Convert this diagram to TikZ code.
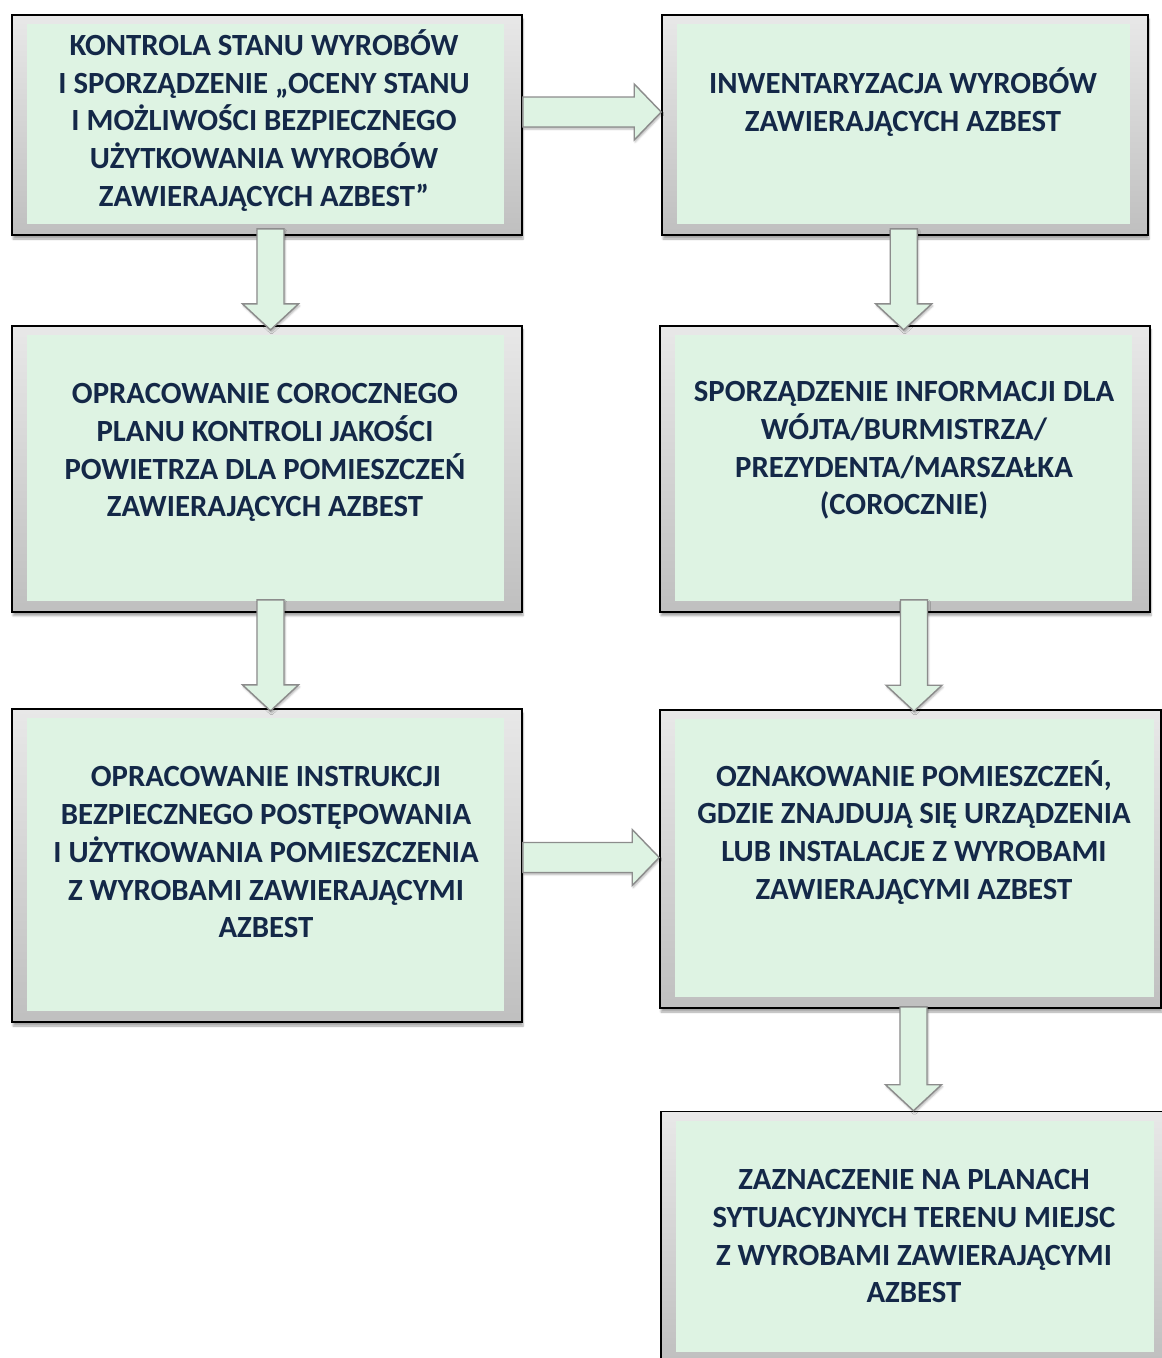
\documentclass[tikz,border=0pt]{standalone}
\usepackage{fontspec}
\setmainfont{Carlito}
\usetikzlibrary{calc,positioning,shadows.blur}
\definecolor{paneGreen}{RGB}{222,243,227}
\definecolor{inkNavy}{RGB}{20,40,72}
\definecolor{arrowEdge}{RGB}{140,140,140}

% fat block arrows between the tiles
\newcommand{\downblock}[2]{%
  \draw[fatarrow] let \p1=(#1), \p2=(#2) in
    (\x1-13.5pt,\y1) -- (\x1-13.5pt,\y2+26pt) -- (\x1-28pt,\y2+26pt) -- (\x1,\y2)
    -- (\x1+28pt,\y2+26pt) -- (\x1+13.5pt,\y2+26pt) -- (\x1+13.5pt,\y1) -- cycle;}
\newcommand{\rightblock}[2]{%
  \draw[fatarrow] let \p1=(#1), \p2=(#2) in
    (\x1,\y1+15pt) -- (\x2-27pt,\y1+15pt) -- (\x2-27pt,\y1+28pt) -- (\x2,\y1)
    -- (\x2-27pt,\y1-28pt) -- (\x2-27pt,\y1-15pt) -- (\x1,\y1-15pt) -- cycle;}

\begin{document}
\begin{tikzpicture}[x=1pt,y=-1pt,
    tile/.style={draw=black, line width=1.6pt, top color=gray!18, bottom color=gray!50,
      inner sep=0pt, blur shadow={shadow xshift=1pt, shadow yshift=-4pt,
      shadow opacity=35, shadow blur steps=6}},
    pane/.style={fill=paneGreen},
    caption/.style={align=center, text=inkNavy,
      font=\bfseries\fontsize{30.8}{37.9}\selectfont,
      execute at begin node={\rule{0pt}{26pt}},
      execute at end node={\rule[-8pt]{0pt}{8pt}}},
    fatarrow/.style={fill=paneGreen, draw=arrowEdge, line width=1.4pt,
      blur shadow={shadow xshift=1pt, shadow yshift=-2pt,
      shadow opacity=30, shadow blur steps=4}}]
  \useasboundingbox (0,0) rectangle (1162,1358);
  \clip (0,0) rectangle (1162,1358);

  % tiles
  \node[tile, minimum width=510pt, minimum height=220pt] (b1) at (267,125) {};
  \node[tile, minimum width=486pt, minimum height=220pt] (b2) at (905,125) {};
  \node[tile, minimum width=510pt, minimum height=286pt] (b3) at (267,468.7) {};
  \node[tile, minimum width=490pt, minimum height=286pt] (b4) at (905,468.7) {};
  \node[tile, minimum width=510pt, minimum height=313pt] (b5) at (267,865.5) {};
  \node[tile, minimum width=501pt, minimum height=298pt] (b6) at (910.5,859) {};
  \node[tile, minimum width=511pt, minimum height=252pt] (b7) at (916.5,1237.5) {};
  \foreach \b/\r in {b1/19,b2/19,b3/19,b4/19,b5/19,b6/8,b7/19}
    \fill[pane] ([xshift=16pt,yshift=-10pt]\b.north west) rectangle ([xshift=-\r pt,yshift=12pt]\b.south east);

  % arrows
  \rightblock{[yshift=13pt]b1.east}{b2.west}
  \rightblock{[yshift=8pt]b5.east}{b6.west}
  \downblock{[xshift=3.5pt,yshift=7pt]b1.south}{[yshift=-5pt]b3.north}
  \downblock{[xshift=3.5pt,yshift=12.7pt]b3.south}{[yshift=-2.7pt]b5.north}
  \downblock{[xshift=-1.3pt,yshift=7pt]b2.south}{[yshift=-5pt]b4.north}
  \downblock{[xshift=9pt,yshift=12.7pt]b4.south}{[yshift=-2pt]b6.north}
  \downblock{[xshift=3pt,yshift=2pt]b6.south}{b7.north}

  % texts
  \node[caption] (t1) at (264,122) {KONTROLA STANU WYROBÓW\\I SPORZĄDZENIE „OCENY STANU\\I MOŻLIWOŚCI BEZPIECZNEGO\\UŻYTKOWANIA WYROBÓW\\ZAWIERAJĄCYCH AZBEST”};
  \node[caption] (t2) at (903,104) {INWENTARYZACJA WYROBÓW\\ZAWIERAJĄCYCH AZBEST};
  \node[caption] (t3) at (265,454) {OPRACOWANIE COROCZNEGO\\PLANU KONTROLI JAKOŚCI\\POWIETRZA DLA POMIESZCZEŃ\\ZAWIERAJĄCYCH AZBEST};
  \node[caption] (t4) at (904,452) {SPORZĄDZENIE INFORMACJI DLA\\WÓJTA/BURMISTRZA/\\PREZYDENTA/MARSZAŁKA\\(COROCZNIE)};
  \node[caption] (t5) at (266,856) {OPRACOWANIE INSTRUKCJI\\BEZPIECZNEGO POSTĘPOWANIA\\I UŻYTKOWANIA POMIESZCZENIA\\Z WYROBAMI ZAWIERAJĄCYMI\\AZBEST};
  \node[caption] (t6) at (914,834) {OZNAKOWANIE POMIESZCZEŃ,\\GDZIE ZNAJDUJĄ SIĘ URZĄDZENIA\\LUB INSTALACJE Z WYROBAMI\\ZAWIERAJĄCYMI AZBEST};
  \node[caption] (t7) at (914,1240) {ZAZNACZENIE NA PLANACH\\SYTUACYJNYCH TERENU MIEJSC\\Z WYROBAMI ZAWIERAJĄCYMI\\AZBEST};
\end{tikzpicture}
\end{document}
